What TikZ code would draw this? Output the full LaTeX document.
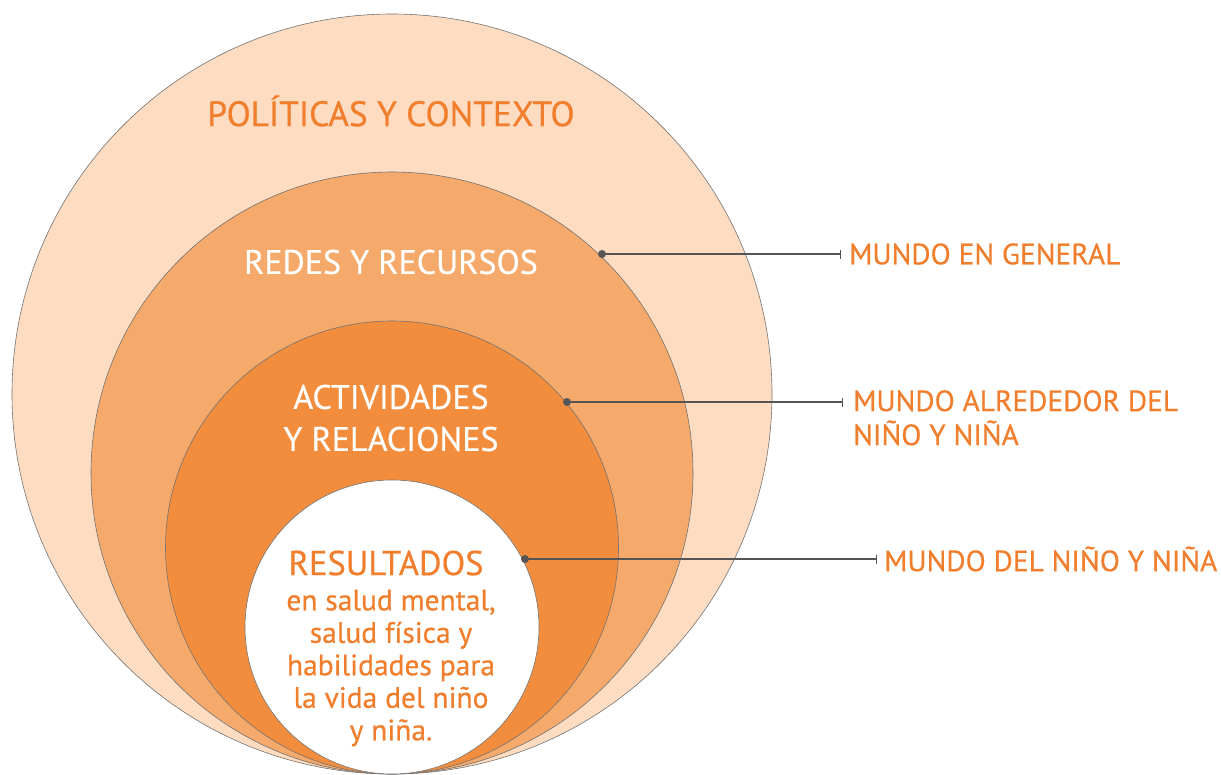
\documentclass[tikz,border=0pt]{standalone}
\usepackage{fontspec}
\setmainfont{PT Sans}[BoldFont={PT Sans},BoldFeatures={FakeBold=0.5}]
\usetikzlibrary{arrows.meta}
\definecolor{ring1}{HTML}{FDDCC1}
\definecolor{ring2}{HTML}{F5A96A}
\definecolor{ring3}{HTML}{F18D3D}
\definecolor{txtor}{HTML}{F07E2C}
\definecolor{leadc}{HTML}{555555}
\tikzset{
  ring/.style={draw=black!55, line width=0.6pt},
  lbl/.style={text=txtor, inner sep=0pt, font=\bfseries\fontsize{29.4}{34}\selectfont, align=left, anchor=west},
  inlbl/.style={inner sep=0pt, align=center},
  leader/.style={draw=leadc, line width=2pt, -{Bar[width=9pt,line width=1.5pt]}},
  dotc/.style={circle, fill=leadc, inner sep=0pt, minimum size=8pt}
}
\begin{document}
\begin{tikzpicture}[x=1pt,y=-1pt]
\useasboundingbox (0,0) rectangle (1221,774);
% nested circles, tangent at the bottom
\fill[ring1] (392,394) circle (380);
\draw[ring] (392,394) circle (380);
\fill[ring2] (392,473) circle (301);
\draw[ring] (392,473) circle (301);
\fill[ring3] (392,547.5) circle (226.5);
\draw[ring] (392,547.5) circle (226.5);
\fill[white] (392,627) circle (147);
\draw[ring] (392,627) circle (147);
% circle texts
\node[inlbl, text=txtor, font=\bfseries\fontsize{35.3}{40}\selectfont] (politicas) at (391,111) {POLÍTICAS Y CONTEXTO};
\node[inlbl, text=white, font=\bfseries\fontsize{34}{40}\selectfont] (redes) at (391,262) {REDES Y RECURSOS};
\node[inlbl, text=white, font=\bfseries\fontsize{34}{42}\selectfont] (activ) at (391,418) {ACTIVIDADES\\Y RELACIONES};
\node[inlbl, text=txtor, font=\bfseries\fontsize{34.5}{36}\selectfont] (result) at (386,563) {RESULTADOS};
\node[inlbl, text=txtor, font=\bfseries\fontsize{29.5}{32.5}\selectfont] (resbody) at (391,668) {en salud mental,\\salud física y\\habilidades para\\la vida del niño\\y niña.};
% leaders
\node[dotc] (d1) at (602,254) {};
\coordinate (e1) at (841,254);
\node[dotc] (d2) at (567,402) {};
\coordinate (e2) at (843,402);
\node[dotc] (d3) at (525,559) {};
\coordinate (e3) at (877,559);
\draw[leader] (d1.center) -- (e1);
\draw[leader] (d2.center) -- (e2);
\draw[leader] (d3.center) -- (e3);
\node[lbl] (l1) at (849,254) {MUNDO EN GENERAL};
\node[lbl, anchor=north west] (l2) at (853,390) {MUNDO ALREDEDOR DEL\\NIÑO Y NIÑA};
\node[lbl] (l3) at (884,559) {MUNDO DEL NIÑO Y NIÑA};
\end{tikzpicture}
\end{document}
